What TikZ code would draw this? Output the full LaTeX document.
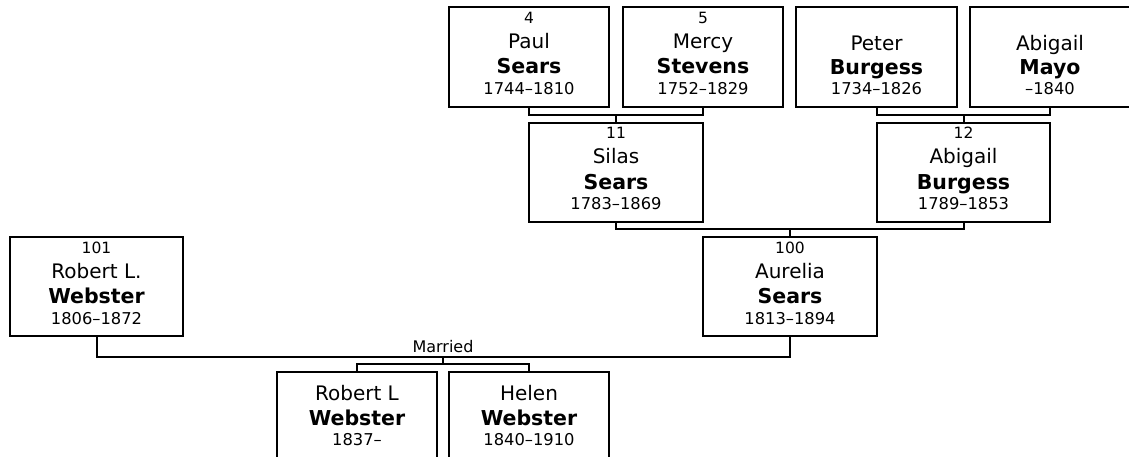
\documentclass[tikz,border=0pt]{standalone}
\usepackage{fontspec}
\setmainfont{DejaVu Sans}
\usetikzlibrary{calc}
\tikzset{
  pbox/.style={draw, line width=2pt, inner sep=0pt, fill=white},
  numtxt/.style={anchor=base, inner sep=0pt, font=\fontsize{15.5}{17}\selectfont},
  firsttxt/.style={anchor=base, inner sep=0pt, font=\fontsize{20}{24}\selectfont},
  lasttxt/.style={anchor=base, inner sep=0pt, font=\fontsize{20.5}{24}\selectfont\bfseries},
  datetxt/.style={anchor=base, inner sep=0pt, font=\fontsize{16.3}{19}\selectfont},
  conn/.style={line width=2pt, line cap=rect},
}
% #1 name, #2 cx, #3 top, #4 width, #5 height, #6 number, #7 first, #8 last, #9 dates
\newcommand\personbox[9]{%
  \node[pbox, minimum width=#4pt, minimum height=#5pt] (#1) at (#2,#3+#5/2) {};
  \node[numtxt] (#1-n) at ($(#1.north)+(0,\offN)$) {#6};
  \node[firsttxt] (#1-f) at ($(#1.north)+(0,\offF)$) {#7};
  \node[lasttxt] (#1-l) at ($(#1.north)+(0,\offL)$) {#8};
  \node[datetxt] (#1-d) at ($(#1.north)+(0,\offD)$) {#9};
}
\begin{document}
\begin{tikzpicture}[x=1pt,y=-1pt]
\useasboundingbox (0,0) rectangle (1129,457);
\clip (0,0) rectangle (1129,457);
% generation 1
\def\offN{18}\def\offF{43}\def\offL{68}\def\offD{88.5}
\personbox{p4}{529}{7}{160}{100}{4}{Paul}{Sears}{1744–1810}
\personbox{p5}{703}{7}{160}{100}{5}{Mercy}{Stevens}{1752–1829}
\def\offF{44.5}\def\offL{68.5}\def\offD{89}
\personbox{p6}{876.5}{7}{161}{100}{}{Peter}{Burgess}{1734–1826}
\personbox{p7}{1050}{7}{160}{100}{}{Abigail}{Mayo}{–1840}
% generation 2
\def\offN{17}\def\offF{42}\def\offL{67.5}\def\offD{88}
\personbox{p11}{616}{123}{174}{99}{11}{Silas}{Sears}{1783–1869}
\personbox{p12}{963.5}{123}{173}{99}{12}{Abigail}{Burgess}{1789–1853}
% generation 3
\personbox{p101}{96.5}{237}{173}{99}{101}{Robert L.}{Webster}{1806–1872}
\personbox{p100}{790}{237}{174}{99}{100}{Aurelia}{Sears}{1813–1894}
% children
\def\offF{29}\def\offL{54}\def\offD{74}
\personbox{c1}{357}{372}{160}{100}{}{Robert L}{Webster}{1837–}
\personbox{c2}{529}{372}{160}{100}{}{Helen}{Webster}{1840–1910}
% connectors
\coordinate (m45) at (616,115);
\coordinate (m67) at (963.5,115);
\coordinate (m1112) at (790,229);
\coordinate (mar) at (443,357);
\coordinate (kids) at (443,364);
\draw[conn] (p4.south) |- (m45) -| (p5.south);
\draw[conn] (m45) -- (p11.north);
\draw[conn] (p6.south) |- (m67) -| (p7.south);
\draw[conn] (m67) -- (p12.north);
\draw[conn] (p11.south) |- (m1112) -| (p12.south);
\draw[conn] (m1112) -- (p100.north);
\draw[conn] (p101.south) |- (mar) -| (p100.south);
\node[anchor=base, inner sep=0pt, font=\fontsize{16}{18}\selectfont] (married) at (443,352) {Married};
\draw[conn] (mar) -- (kids);
\draw[conn] (c1.north) |- (kids) -| (c2.north);
\end{tikzpicture}
\end{document}
